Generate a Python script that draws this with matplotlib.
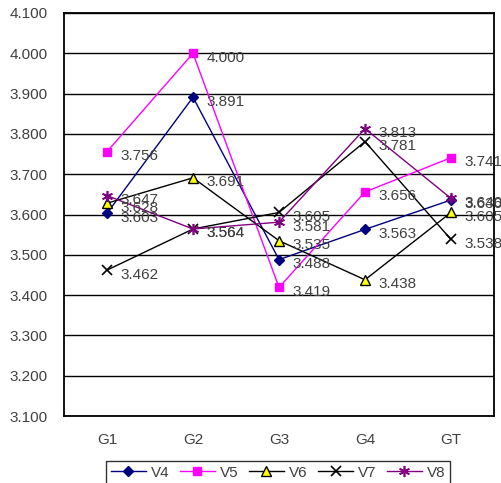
import matplotlib
matplotlib.use("Agg")
import matplotlib.pyplot as plt

categories = ["G1", "G2", "G3", "G4", "GT"]
V4 = [3.603, 3.891, 3.488, 3.563, 3.636]
V5 = [3.756, 4.000, 3.419, 3.656, 3.741]
V6 = [3.628, 3.691, 3.535, 3.438, 3.605]
V7 = [3.462, 3.564, 3.605, 3.781, 3.538]
V8 = [3.647, 3.564, 3.581, 3.813, 3.640]
yticks = [3.1, 3.2, 3.3, 3.4, 3.5, 3.6, 3.7, 3.8, 3.9, 4.0, 4.1]

plt.rcParams['font.family'] = ['Liberation Sans', 'DejaVu Sans']

fig = plt.figure(figsize=(5.01, 4.83), dpi=100)
W, H = 501, 483
ax = fig.add_axes([64 / W, (H - 416) / H, 430 / W, 403 / H])

series = [
    ("V4", V4, dict(color="#000080", marker="D", markersize=5, markerfacecolor="#000080", markeredgecolor="#000080")),
    ("V5", V5, dict(color="#FF00FF", marker="s", markersize=6, markerfacecolor="#FF00FF", markeredgecolor="#FF00FF")),
    ("V6", V6, dict(color="#000000", marker="^", markersize=7, markerfacecolor="#FFFF00", markeredgecolor="#000000")),
    ("V7", V7, dict(color="#000000", marker="x", markersize=7, markeredgewidth=1.2)),
    ("V8", V8, dict(color="#800080", marker=(6, 2, 0), markersize=8, markeredgewidth=1.2, markeredgecolor="#800080")),
]

x = list(range(len(categories)))
handles = []
for name, vals, style in series:
    line, = ax.plot(x, vals, linewidth=1.0, label=name, clip_on=False, zorder=3, **style)
    handles.append(line)
    for xi, v in zip(x, vals):
        ax.annotate(f"{v:.3f}", (xi, v), xytext=(9.5, -3.2), textcoords="offset points",
                    ha="left", va="center", fontsize=11, color="#404040",
                    annotation_clip=False, zorder=4)

ax.set_xlim(-0.5, 4.5)
ax.set_ylim(3.1, 4.1)
ax.set_yticks(yticks)
ax.set_yticklabels([f"{t:.3f}" for t in yticks], fontsize=11, color="#404040")
ax.set_xticks(x)
ax.set_xticklabels(categories, fontsize=11, color="#404040")
ax.tick_params(axis="y", length=0, pad=12)
ax.tick_params(axis="x", length=0, pad=12)
ax.yaxis.grid(True, color="black", linewidth=1.0)
ax.set_axisbelow(True)
for s in ax.spines.values():
    s.set_color("black")
    s.set_linewidth(1.3)

leg = fig.legend(handles=handles, loc="upper center", bbox_to_anchor=(278 / W, (H - 461) / H),
                 ncol=5, fontsize=11, frameon=True, fancybox=False, edgecolor="black",
                 handlelength=2.3, handletextpad=0.3, columnspacing=0.7, borderpad=0.3,
                 borderaxespad=0)
leg.get_frame().set_linewidth(1.0)
for t in leg.get_texts():
    t.set_color("#404040")

fig.savefig("out.png", dpi=100)
